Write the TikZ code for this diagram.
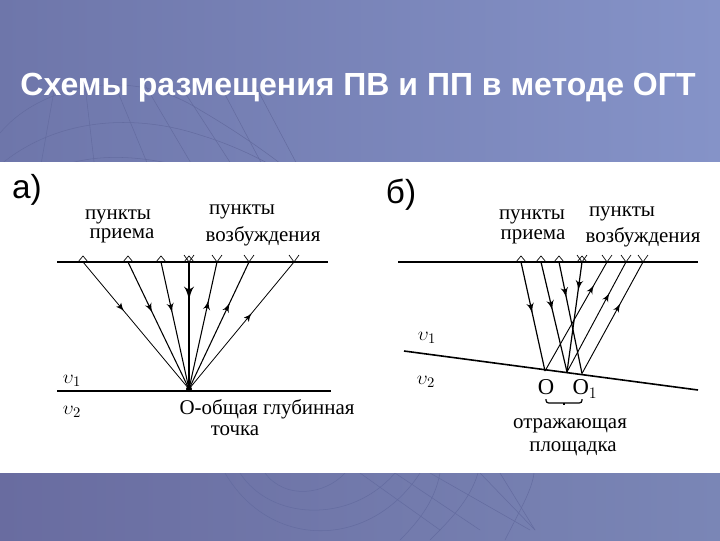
\documentclass[tikz,border=0pt]{standalone}
\usepackage{fontspec}
\setmainfont{Liberation Serif}
\newfontfamily\headfont{Liberation Sans}
\usetikzlibrary{arrows,calc,decorations.markings}
\definecolor{bandleft}{RGB}{110,118,170}
\definecolor{bandright}{RGB}{133,147,200}
\definecolor{footleft}{RGB}{105,108,160}
\definecolor{footright}{RGB}{122,134,182}
\definecolor{gridline}{RGB}{100,108,160}
\tikzset{
    lbl/.style = {inner sep=0pt, font=\fontsize{15.7}{17}\selectfont},
    head/.style = {inner sep=0pt, font=\headfont\fontsize{25}{27}\selectfont},
    ground/.style = {draw, line width=1.5pt},
    geo/.style = {draw, line width=.5pt},
    grid arc/.style = {draw=gridline, line width=.4pt},
    ray/.style = {draw, line width=.7pt, >=latex'},
    arrowat/.style = {postaction={decorate,decoration={markings,
        mark=at position #1 with {\arrow[scale=1.4]{latex'}}}}}
}
\begin{document}
\begin{tikzpicture}[x=.75pt,y=-.75pt]
    \useasboundingbox (0,0) rectangle (720,540);
    % background
    \shade [left color=bandleft, right color=bandright] (0,0) rectangle (720,162);
    \shade [left color=footleft, right color=footright] (0,473) rectangle (720,540);
    \begin{scope}
        \clip (0,0) rectangle (720,162);
        \draw [grid arc] (0,133) .. controls (40,85) and (130,65) .. (200,110) .. controls (260,145) and (320,190) .. (345,225);
        \draw [grid arc] (0,165) .. controls (60,115) and (140,115) .. (200,135) .. controls (250,150) and (290,175) .. (310,190);
        \draw [grid arc] (10,195) .. controls (70,145) and (140,150) .. (230,180);
        \draw [grid arc] (50,195) .. controls (90,175) and (140,175) .. (190,195);
        \foreach \t/\b in {55/40,85/95,115/150,145/195,180/235,220/265,255/300}
            \draw [grid arc] (\t,85) -- (\b,170);
    \end{scope}
    \begin{scope}
        \clip (0,473) rectangle (720,540);
        \draw [grid arc] (265,473) .. controls (285,500) and (325,495) .. (345,473);
        \draw [grid arc] (240,473) .. controls (270,520) and (350,525) .. (395,473);
        \draw [grid arc] (225,473) .. controls (270,550) and (370,550) .. (420,473);
        \draw [grid arc] (400,540) .. controls (420,520) and (435,500) .. (440,473);
        \draw [grid arc] (430,540) .. controls (450,520) and (470,500) .. (478,473);
        \draw [grid arc] (505,540) .. controls (520,510) and (532,490) .. (534,473);
        \foreach \t/\b in {360/440,395/480,430/530,480/535,500/535}
            \draw [grid arc] (\t,473) -- (\b,530);
    \end{scope}
    \node [head, text=white, font=\headfont\bfseries\fontsize{24}{26}\selectfont] (title) at (358,88) {Схемы размещения ПВ и ПП в методе ОГТ};
    % panel
    \fill [white] (0,162) rectangle (720,473);

    % a)
    \node [head] (parta) at (27,190) {а)};
    \coordinate (ga) at (57,262);
    \coordinate (gb) at (328,262);
    \coordinate (ra) at (57,391);
    \coordinate (rb) at (331,391);
    \draw [ground] (ga) -- (gb);
    \draw [ground] (ra) -- (rb);
    \coordinate (O) at (189,389);
    \fill (O) circle (3);
    \foreach \n/\x in {p1/83,p2/128,p3/161,p4/189,v1/217,v2/249,v3/294}
        \coordinate (\n) at (\x,262);
    \foreach \n in {p1,p2,p3,p4}
        \draw [geo] (\n) ++(-5,0) -- ++(5,-6) -- ++(5,6);
    \foreach \n in {p4,v1,v2,v3}
        \draw [geo] (\n) ++(-5,-7) -- ++(5,7) -- ++(5,-7);
    \foreach \n/\p/\w in {p1/.39/.6pt,p2/.4/.8pt,p3/.4/.8pt,p4/.3/1.5pt}
        \draw [ray,line width=\w,arrowat=\p] (\n) -- (O);
    \foreach \n/\p/\w in {v1/.7/.8pt,v2/.68/.8pt,v3/.6/.6pt}
        \draw [ray,line width=\w,arrowat=\p] (O) -- (\n);
    \node [lbl] (recv1) at (118,217) {пункты};
    \node [lbl] (recv2) at (122,236) {приема};
    \node [lbl] (src1) at (242,212) {пункты};
    \node [lbl] (src2) at (263,236) {возбуждения};
    \node [lbl] (vela) at (72,381) {$\upsilon_1$};
    \node [lbl] (velb) at (72,412) {$\upsilon_2$};
    \node [lbl] (cdp1) at (267,409) {О-общая глубинная};
    \node [lbl] (cdp2) at (235,431) {точка};

    % b)
    \node [head] (partb) at (401,195) {б)};
    \coordinate (hc) at (398,262);
    \coordinate (hd) at (698,262);
    \coordinate (ka) at (404,351);
    \coordinate (kb) at (698,390);
    \draw [ground] (hc) -- (hd);
    \draw [ground,line width=1.2pt] (ka) -- (kb);
    \coordinate (Oa) at (545,371);
    \coordinate (Ob) at (567,372);
    \coordinate (Oc) at (582,373.5);
    \foreach \n/\x in {q1/521,q2/541,q3/559,q4/582,w1/607,w2/626,w3/643}
        \coordinate (\n) at (\x,262);
    \foreach \n in {q1,q2,q3,q4}
        \draw [geo] (\n) ++(-5,0) -- ++(5,-6) -- ++(5,6);
    \foreach \n in {q4,w1,w2,w3}
        \draw [geo] (\n) ++(-5,-7) -- ++(5,7) -- ++(5,-7);
    \foreach \a/\b/\p in {q1/Oa/.47,q2/Ob/.44,q3/Oc/.32,q4/Ob/.26}
        \draw [ray,line width=.9pt,arrowat=\p] (\a) -- (\b);
    \foreach \a/\b/\p in {Oa/w1/.79,Ob/w2/.72,Oc/w3/.63}
        \draw [ray,arrowat=\p] (\a) -- (\b);
    \node [lbl] (recv3) at (532,217) {пункты};
    \node [lbl] (recv4) at (533,237) {приема};
    \node [lbl] (src3) at (622,214) {пункты};
    \node [lbl] (src4) at (643,237) {возбуждения};
    \node [lbl] (velc) at (427,338) {$\upsilon_1$};
    \node [lbl] (veld) at (426,382) {$\upsilon_2$};
    \node [lbl, font=\fontsize{17}{18}\selectfont] (ptO) at (546,387) {О};
    \node [lbl, font=\fontsize{17}{18}\selectfont] (ptO1) at (585,389) {О$_1$};
    % bracket under the two points
    \coordinate (ba) at (546,399);
    \coordinate (bb) at (582,399);
    \coordinate (bm) at ($(ba)!.5!(bb)+(0,6)$);
    \draw [line width=.9pt, rounded corners=2pt] (ba) -- ++(0,4) -- ++(36,0) -- (bb);
    \draw [line width=.9pt] ($(ba)!.5!(bb)+(0,4)$) -- (bm);
    \node [lbl] (pad1) at (570,426) {отражающая};
    \node [lbl] (pad2) at (573,449) {площадка};
\end{tikzpicture}
\end{document}
